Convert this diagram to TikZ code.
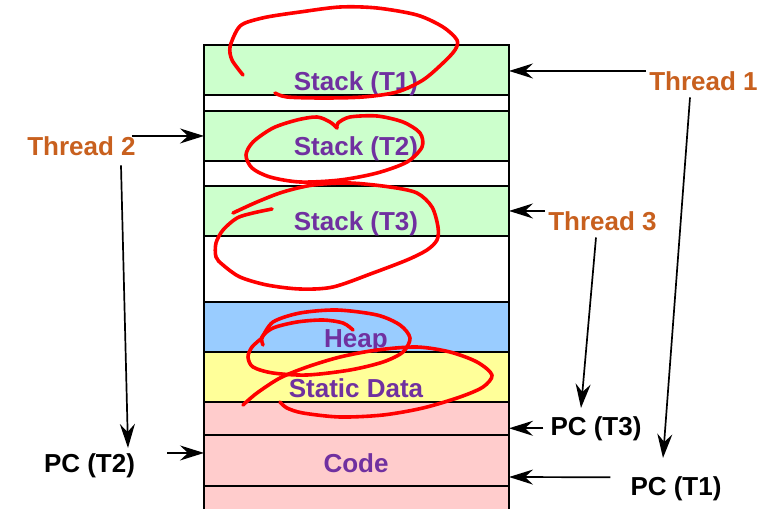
\documentclass[tikz,border=0pt]{standalone}
\usepackage{fontspec}
\setmainfont{Liberation Sans}
\usetikzlibrary{arrows.meta}
\definecolor{stackgreen}{HTML}{CCFFCC}
\definecolor{heapblue}{HTML}{99CCFF}
\definecolor{datayellow}{HTML}{FFFF99}
\definecolor{codepink}{HTML}{FFCCCC}
\definecolor{segpurple}{HTML}{7030A0}
\definecolor{threadorange}{HTML}{C8601E}
\definecolor{inkred}{HTML}{FF0000}
\begin{document}
\begin{tikzpicture}[x=1pt,y=-1pt,
		seg/.style={draw=black,line width=1.8pt,minimum width=305pt,anchor=north west,inner sep=0pt,outer sep=0pt},
		bigtext/.style={anchor=base,inner sep=0pt,font=\fontsize{26}{30}\selectfont\bfseries},
		segtext/.style={bigtext,text=segpurple},
		thread/.style={bigtext,text=threadorange},
		pc/.style={bigtext,text=black},
		arr/.style={-{Stealth[length=24pt,width=15pt,inset=8pt]},line width=1.7pt},
		ink/.style={inkred,line width=3.6pt,line cap=round,line join=round}]
				\useasboundingbox (0,0) rectangle (761,509);
				\foreach \nm/\ytop/\hgt/\col in {s1/45/50/stackgreen,g1/95/16/white,s2/111/50/stackgreen,g2/161/25/white,s3/186/50/stackgreen,g3/236/66/white,heap/302/50/heapblue,data/352/50/datayellow,p1/402/33/codepink,code/435/51/codepink,p2/486/40/codepink}{
					\node[seg,fill=\col,minimum height=\hgt pt] (\nm) at (204,\ytop) {};
				}
				\node[segtext] (ls1) at (356,90) {Stack (T1)};
				\node[segtext] (ls2) at (356,155) {Stack (T2)};
				\node[segtext] (ls3) at (356,230) {Stack (T3)};
				\node[segtext] (lheap) at (356,347) {Heap};
				\node[segtext] (ldata) at (356,397) {Static Data};
				\node[segtext] (lcode) at (356,472) {Code};
				\node[thread] (t1) at (703.5,90) {Thread 1};
				\node[thread] (t2) at (81.5,155) {Thread 2};
				\node[thread] (t3) at (602.5,230) {Thread 3};
				\node[pc] (pc1) at (676,495) {PC (T1)};
				\node[pc] (pc2) at (89.5,472) {PC (T2)};
				\node[pc] (pc3) at (596,435) {PC (T3)};
				\draw[arr] ([xshift=-3pt]t1.north west) -- (t1.north west -| s1.east);
				\draw[arr] ([xshift=-4pt]t2.north east) -- (t2.north east -| s2.west);
				\draw[arr] ([xshift=-3pt]t3.north west) -- (t3.north west -| s3.east);
				\draw[arr] ([xshift=-13.5pt,yshift=-7pt]t1.south) -- ([xshift=-13pt,yshift=18pt]pc1.north);
				\draw[arr] ([xshift=39.5pt,yshift=-10pt]t2.south) -- ([xshift=38.5pt,yshift=5pt]pc2.north);
				\draw[arr] ([xshift=-6.5pt,yshift=-7pt]t3.south) -- ([xshift=-15pt,yshift=8pt]pc3.north);
				\draw[arr] ([xshift=32pt]pc2.north east) -- (pc2.north east -| code.west);
				\draw[arr] ([xshift=-7pt]pc3.west) -- (pc3.west -| p1.east);
				\draw[arr] ([xshift=-20pt,yshift=11pt]pc1.west) -- ([yshift=-16.5pt]code.east);
				\draw[ink] plot[smooth] coordinates {(243,75) (232,60) (230,47) (237,30) (245,23) (267,17) (300,12) (340,7) (377,8) (417,15) (443,27) (457,40) (455,50) (443,63) (423,80) (397,92) (363,97) (323,98) (287,97) (275,93)};
				\draw[ink] plot[smooth] coordinates {(337,128) (330,122) (317,117) (297,120) (273,128) (253,142) (246,155) (252,168) (270,177) (300,182) (340,180) (377,173) (407,162) (422,147) (420,133) (403,122) (377,116) (350,117) (338,123) (337,128)};
				\draw[ink] plot[smooth] coordinates {(272,209) (253,213) (237,218) (223,230) (216,243) (216,257) (223,265) (240,277) (267,285) (300,289) (333,287) (373,273) (407,260) (427,250) (437,240) (438,227) (432,207) (417,193) (390,187) (350,183) (313,185) (283,192) (257,202) (233,213)};
				\draw[ink] plot[smooth] coordinates {(353,330) (343,323) (323,320) (297,322) (273,328) (262,337) (263,345)};
				\draw[ink] plot[smooth] coordinates {(262,338) (273,322) (300,313) (337,310) (377,315) (400,325) (410,338) (403,352) (383,362) (350,370) (307,375) (273,373) (253,367) (248,357) (252,347) (262,338)};
				\draw[ink] plot[smooth] coordinates {(243,405) (257,393) (280,378) (307,367) (340,357) (377,350) (417,347) (450,352) (477,362) (492,375) (483,387) (460,397) (423,408) (383,415) (340,417) (303,413) (287,408) (280,402)};
			\end{tikzpicture}
\end{document}
